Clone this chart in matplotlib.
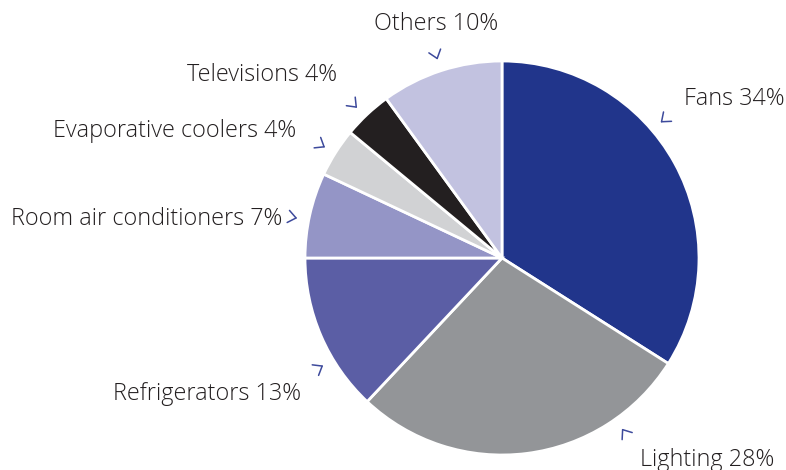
import numpy as np
import matplotlib
matplotlib.use("Agg")
import matplotlib.pyplot as plt

categories = ["Fans", "Lighting", "Refrigerators", "Room air conditioners",
              "Evaporative coolers", "Televisions", "Others"]
values = [34, 28, 13, 7, 4, 4, 10]
colors = ["#21358B", "#939598", "#5B5EA5", "#9495C6", "#D1D2D4", "#231F20", "#C2C2E0"]

# layout: angular shift of marker (degrees) from wedge middle
label_shift = [11.7, 27.9, 7.6, 1.6, 0.4, 0.8, 0.0]
# layout: text offset from marker tip, pixels (right, down)
text_offset = [(22, -23), (17, 30), (-21, 28), (-14, 1), (-28, -16), (-19, -32), (-1, -34)]

W, H = 786, 470
fig = plt.figure(figsize=(W / 100, H / 100), dpi=100)
ax = fig.add_axes([0, 0, 1, 1])
cx, cy, R = 502, 470 - 258, 197
wedges, _ = ax.pie(values, colors=colors, startangle=90, counterclock=False,
                   center=(cx, cy), radius=R,
                   wedgeprops=dict(edgecolor="white", linewidth=2))
ax.set_xlim(0, W)
ax.set_ylim(0, H)
ax.set_aspect("equal")
ax.axis("off")

font = ["Open Sans", "DejaVu Sans"]
for w, cat, val, sh, (dx, dy) in zip(wedges, categories, values, label_shift, text_offset):
    mid = (w.theta1 + w.theta2) / 2 + sh
    a = np.deg2rad(mid)
    ux, uy = np.cos(a), np.sin(a)
    # chevron tip pointing to centre
    tip = np.array([cx + 1.065 * R * ux, cy + 1.065 * R * uy])
    L = 10
    for s in (-38, 38):
        b = a + np.deg2rad(s)
        ax.plot([tip[0], tip[0] + L * np.cos(b)], [tip[1], tip[1] + L * np.sin(b)],
                color="#3D4A9C", lw=1.1, solid_capstyle="round")
    if abs(ux) < 0.4:
        ha = "center"
    elif ux > 0:
        ha = "left"
    else:
        ha = "right"
    ax.text(tip[0] + dx, tip[1] - dy, f"{cat} {val}%", ha=ha, va="center",
            fontsize=16.8, family=font, weight="light", color="#231F20")

fig.savefig("out.png", dpi=100)
